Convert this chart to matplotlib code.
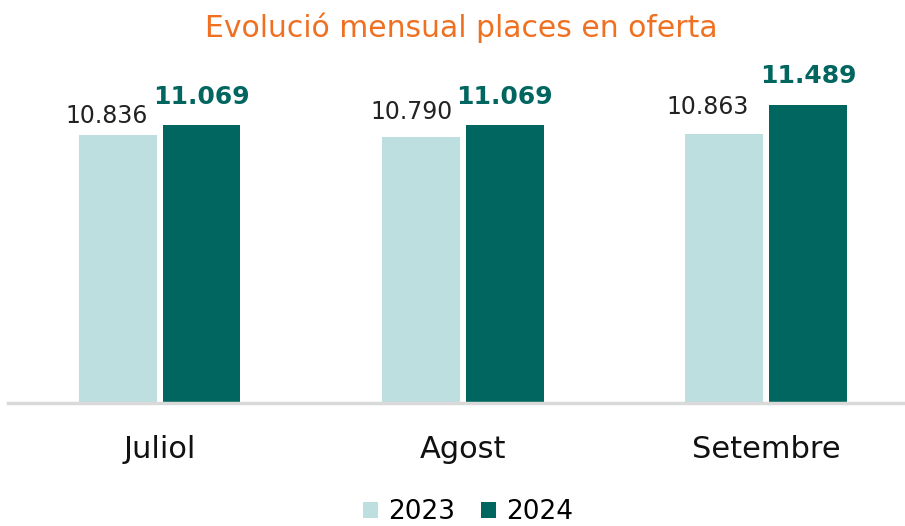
import numpy as np
import matplotlib.pyplot as plt

# data
months = ['Juliol', 'Agost', 'Setembre']
places_2023 = [10836, 10790, 10863]
places_2024 = [11069, 11069, 11489]
labels_2023 = ['10.836', '10.790', '10.863']
labels_2024 = ['11.069', '11.069', '11.489']

# label nudges in pixels (dx, dy) to follow the original placement
nudge_2023 = [(-11, 7), (-9, 13), (-17, 15)]
nudge_2024 = [(0, 16), (0, 16), (0, 17)]

c23 = '#BEDFE0'
c24 = '#00665F'

fig = plt.figure(figsize=(9.05, 5.26), dpi=100)
ax = fig.add_axes([8 / 905, 123 / 526, 897 / 905, 321 / 526])

x = np.arange(len(months))
off = 0.138
w = 0.257
ax.bar(x - off, places_2023, w, color=c23, label='2023', zorder=2)
ax.bar(x + off, places_2024, w, color=c24, label='2024', zorder=2)

# value labels
for i in range(len(months)):
    ax.annotate(labels_2023[i], (x[i] - off, places_2023[i]), xytext=nudge_2023[i],
                textcoords='offset pixels', ha='center', va='bottom',
                fontsize=17, color='#222222')
    ax.annotate(labels_2024[i], (x[i] + off, places_2024[i]), xytext=nudge_2024[i],
                textcoords='offset pixels', ha='center', va='bottom',
                fontsize=18, fontweight='bold', color=c24)

ax.set_ylim(5000, 12000)
ax.set_xlim(-0.5, 2.458)
ax.set_yticks([])
ax.set_xticks(x)
ax.set_xticklabels(months, fontsize=22, color='#111111')
ax.tick_params(axis='x', length=0, pad=23)
for s in ['top', 'right', 'left']:
    ax.spines[s].set_visible(False)
ax.spines['bottom'].set_color('#D9D9D9')
ax.spines['bottom'].set_linewidth(2.5)
ax.spines['bottom'].set_zorder(3)

fig.text(461 / 905, 1 - 28 / 526, 'Evolució mensual places en oferta',
         ha='center', va='center', fontsize=21.5, color='#F07021')

fig.legend(loc='center', bbox_to_anchor=(468 / 905, 1 - 512 / 526), ncol=2,
           frameon=False, fontsize=19, handlelength=0.55, handleheight=0.55,
           handletextpad=0.38, columnspacing=1.0, borderpad=0.2)

fig.savefig('out.png', dpi=100)
